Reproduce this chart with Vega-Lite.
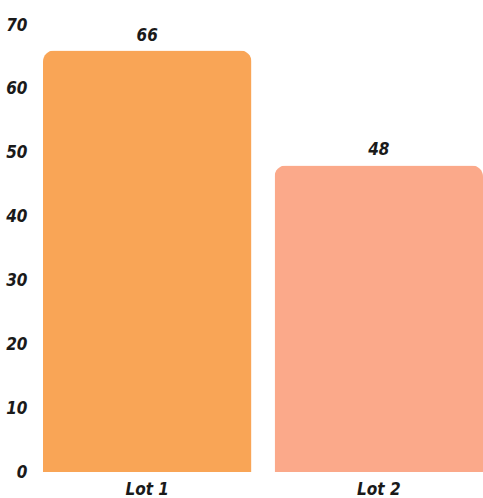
{
  "$schema": "https://vega.github.io/schema/vega-lite/v6.json",
  "autosize": {"type": "none"},
  "padding": {"left": 43, "right": 0, "top": 25, "bottom": 26},
  "width": 440,
  "height": 447,
  "background": "white",
  "config": {
    "view": {"stroke": null},
    "font": "DejaVu Sans Condensed, sans-serif",
    "axis": {"grid": false, "domain": false, "ticks": false, "labelFont": "DejaVu Sans Condensed, sans-serif", "labelFontSize": 17, "labelFontWeight": "bold", "labelFontStyle": "italic", "labelColor": "#1a1a1a", "title": null}
  },
  "data": {"values": [
    {"lot": "Lot 1", "value": 66, "color": "#F9A556"},
    {"lot": "Lot 2", "value": 48, "color": "#FBA98A"}
  ]},
  "encoding": {
    "x": {"field": "lot", "type": "nominal", "sort": null, "scale": {"paddingInner": 0.1, "paddingOuter": 0}, "axis": {"labelAngle": 0, "labelPadding": 9}},
    "y": {"field": "value", "type": "quantitative", "scale": {"domain": [0, 70], "nice": false}, "axis": {"values": [0, 10, 20, 30, 40, 50, 60, 70], "labelPadding": 16}}
  },
  "layer": [
    {"mark": {"type": "bar", "cornerRadiusTopLeft": 11, "cornerRadiusTopRight": 11}, "encoding": {"color": {"field": "color", "type": "nominal", "scale": null}}},
    {"mark": {"type": "text", "baseline": "bottom", "dy": -6, "fontSize": 17, "fontWeight": "bold", "fontStyle": "italic", "color": "#1a1a1a"}, "encoding": {"text": {"field": "value", "type": "quantitative"}}}
  ]
}
